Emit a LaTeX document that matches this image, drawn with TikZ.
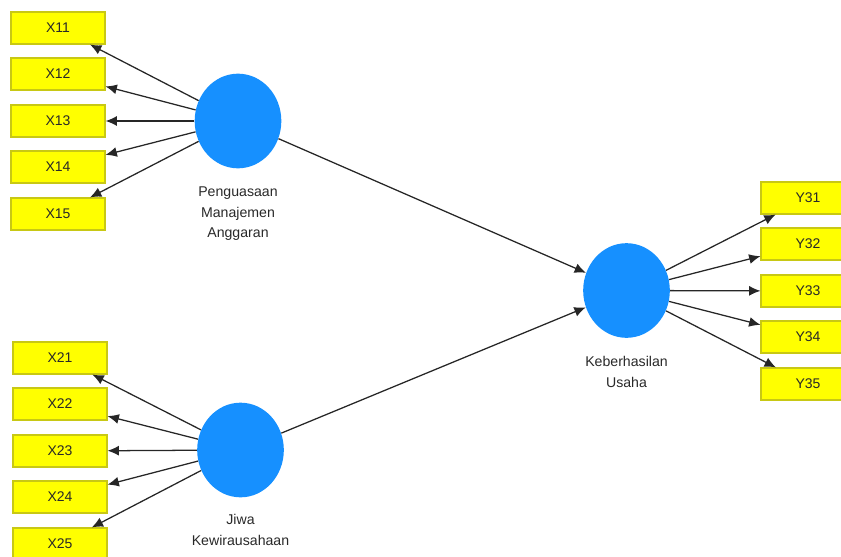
\documentclass[tikz,border=0pt]{standalone}
\usepackage{fontspec}
\setmainfont{Liberation Sans}
\usepackage{tikz}
\usetikzlibrary{shapes.geometric,arrows.meta}

\definecolor{indfill}{RGB}{255,255,0}
\definecolor{inddraw}{RGB}{200,200,20}
\definecolor{latfill}{RGB}{22,144,255}
\definecolor{txtgray}{RGB}{40,40,40}

\tikzset{
  ind/.style={draw=inddraw, fill=indfill, line width=0.8pt, minimum width=70.5pt,
    minimum height=24pt, inner sep=0pt, text=txtgray, font=\fontsize{10.5}{12}\selectfont},
  lat/.style={ellipse, fill=latfill, minimum width=65pt, minimum height=71pt, inner sep=0pt},
  latlabel/.style={align=center, text=txtgray, font=\fontsize{10.6}{15.5}\selectfont},
  arr/.style={-{Latex[length=8.5pt,width=7.5pt]}, line width=0.95pt, draw=black!85}
}

\begin{document}
\begin{tikzpicture}[x=0.75pt, y=-0.75pt]

    \useasboundingbox (0,0) rectangle (841,556);

    % latent variables
    \node[lat] (pma) at (238,121) {};
    \node[lat] (jk) at (240.5,450) {};
    \node[lat] (ku) at (626.5,290.5) {};

    \node[latlabel, anchor=north] (pmalbl) at (238,182) {Penguasaan\\Manajemen\\Anggaran};
    \node[latlabel, anchor=north] (jklbl) at (240.5,510) {Jiwa\\Kewirausahaan};
    \node[latlabel, anchor=north] (kulbl) at (626.5,352) {Keberhasilan\\Usaha};

    % indicators
    \foreach \i/\y in {1/28,2/74,3/121,4/167,5/214}
      \node[ind] (x1\i) at (58,\y) {X1\i};
    \foreach \i/\y in {1/358,2/404,3/451,4/497,5/544}
      \node[ind] (x2\i) at (60,\y) {X2\i};
    \foreach \i/\y in {1/198,2/244,3/291,4/337,5/384}
      \node[ind] (y3\i) at (808,\y) {Y3\i};

    % loadings
    \foreach \i in {1,...,5} {
      \draw[arr] (pma) -- (x1\i);
      \draw[arr] (jk) -- (x2\i);
      \draw[arr] (ku) -- (y3\i);
    }

    % paths
    \draw[arr] (pma) -- (ku);
    \draw[arr] (jk) -- (ku);
\end{tikzpicture}
\end{document}
